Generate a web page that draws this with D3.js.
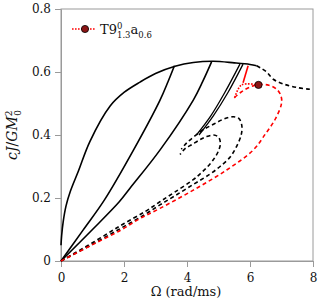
<!DOCTYPE html>
<html><head><meta charset="utf-8">
<script src="https://cdn.jsdelivr.net/npm/d3@7"></script>
<style>body{margin:0;background:#fff}svg{display:block}</style>
</head><body><div id="c"></div>
<script>
// ---- data ----
const xTicks = [0, 2, 4, 6, 8];
const yTicks = [0, 0.2, 0.4, 0.6, 0.8];
const yTickLabels = ["0", "0.2", "0.4", "0.6", "0.8"];
const envelope = [[0,0.05],[0.02,0.08],[0.07,0.125],[0.16,0.175],[0.3,0.222],[0.55,0.285],[0.92,0.38],[1.56,0.492],[2.0,0.535],[2.51,0.568],[3.0,0.595],[3.62,0.618],[4.2,0.63],[4.83,0.634],[5.5,0.629],[6.0,0.624],[6.21,0.62]];
const solidA = [[0,0],[0.7,0.098],[1.38,0.194],[2.3,0.352],[3.14,0.51],[3.4,0.57],[3.6,0.62]];
const solidB = [[0,0],[1.0,0.1],[1.85,0.188],[2.19,0.231],[3.14,0.352],[4.2,0.511],[4.5,0.57],[4.78,0.632]];
const solidC1 = [[5.68,0.625],[5.2,0.535],[4.75,0.46],[4.3,0.40]];
const solidC2 = [[5.78,0.625],[5.3,0.535],[4.83,0.46],[4.38,0.40]];
const dashTail = [[6.21,0.62],[6.35,0.612],[6.53,0.6],[6.74,0.577],[7.06,0.562],[7.48,0.551],[7.9,0.545]];
const dashLoopOuter = [[0,0],[1.0,0.053],[1.9,0.104],[2.67,0.148],[3.14,0.178],[3.6,0.206],[4.2,0.243],[4.73,0.276],[5.05,0.3],[5.37,0.33],[5.58,0.365],[5.72,0.4],[5.74,0.43],[5.65,0.452],[5.47,0.458],[5.15,0.45],[4.84,0.434],[4.52,0.417],[4.25,0.397],[3.99,0.375],[3.82,0.355]];
const dashLoopInner = [[0,0],[1.0,0.058],[1.9,0.113],[2.67,0.157],[3.14,0.188],[3.6,0.218],[4.2,0.258],[4.41,0.276],[4.63,0.297],[4.84,0.322],[5.0,0.35],[5.06,0.375],[5.0,0.393],[4.85,0.4],[4.6,0.394],[4.41,0.385],[4.15,0.369],[3.94,0.357],[3.78,0.338]];
const redDashed = [[0,0],[1.0,0.052],[1.9,0.098],[2.51,0.135],[3.14,0.167],[4.2,0.225],[5.26,0.289],[6.1,0.352],[6.5,0.405],[6.8,0.45],[7.0,0.5],[6.98,0.525],[6.85,0.545],[6.6,0.558],[6.27,0.56],[5.95,0.55],[5.7,0.535],[5.5,0.518]];
const redSolid = [[5.94,0.62],[5.78,0.566]];
const redDotted = [[6.27,0.559],[5.73,0.559],[5.52,0.52]];
const marker = [6.27, 0.559];

// ---- drawing ----
const W = 321, H = 306;
const FB = "'DejaVu Serif', serif";
const svg = d3.select("#c").append("svg").attr("width", W).attr("height", H);
const x = d3.scaleLinear().domain([0, 8]).range([61, 313]);
const y = d3.scaleLinear().domain([0, 0.8]).range([261, 9]);
const gray = "#9a9a9a";

svg.append("rect").attr("x", x(0)).attr("y", y(0.8)).attr("width", x(8) - x(0)).attr("height", y(0) - y(0.8))
  .attr("fill", "none").attr("stroke", gray).attr("stroke-width", 1);

const xAxis = svg.append("g").attr("transform", `translate(0,${y(0)})`)
  .call(d3.axisBottom(x).tickValues(xTicks).tickSize(6).tickPadding(6).tickFormat(d3.format("d")));
const yAxis = svg.append("g").attr("transform", `translate(${x(0)},0)`)
  .call(d3.axisLeft(y).tickValues(yTicks).tickSize(6).tickPadding(4).tickFormat((d, i) => yTickLabels[i]));
[xAxis, yAxis].forEach(g => {
  g.attr("font-family", FB).attr("font-size", 12);
  g.select(".domain").attr("stroke", gray);
  g.selectAll(".tick line").attr("stroke", gray);
  g.selectAll(".tick text").attr("fill", "#111");
});

const line = d3.line().x(d => x(d[0])).y(d => y(d[1])).curve(d3.curveCatmullRom.alpha(0.5));
function draw(data, color, width, dash) {
  const p = svg.append("path").datum(data).attr("d", line).attr("fill", "none")
    .attr("stroke", color).attr("stroke-width", width).attr("stroke-linecap", "butt");
  if (dash) p.attr("stroke-dasharray", dash);
  return p;
}
draw(envelope, "#000", 1.6);
draw(solidA, "#000", 1.6);
draw(solidB, "#000", 1.6);
draw(solidC1, "#000", 1.3);
draw(solidC2, "#000", 1.3);
draw(dashTail, "#000", 1.6, "4,3");
draw(dashLoopOuter, "#000", 1.6, "4,3");
draw(dashLoopInner, "#000", 1.6, "4,3");
draw(redDashed, "#ff0000", 1.6, "4,3");
draw(redSolid, "#ff0000", 1.6);
draw(redDotted, "#ff0000", 1.6, "1.6,1.4");
svg.append("circle").attr("cx", x(marker[0])).attr("cy", y(marker[1])).attr("r", 3.6)
  .attr("fill", "#8b1515").attr("stroke", "#000").attr("stroke-width", 0.8);

// legend
svg.append("line").attr("x1", 72).attr("x2", 96).attr("y1", 29).attr("y2", 29)
  .attr("stroke", "#ff0000").attr("stroke-width", 1.6).attr("stroke-dasharray", "1.6,1.4");
svg.append("circle").attr("cx", 85).attr("cy", 29).attr("r", 3.6).attr("fill", "#8b1515").attr("stroke", "#000").attr("stroke-width", 0.8);
const lt = svg.append("text").attr("x", 100).attr("y", 34).attr("font-family", FB).attr("font-size", 13).attr("fill", "#111");
lt.append("tspan").text("T9");
lt.append("tspan").attr("dy", -5.5).attr("font-size", 8.5).text("0");
lt.append("tspan").attr("dx", -5.4).attr("dy", 9).attr("font-size", 8.5).text("1.3");
lt.append("tspan").attr("dy", -3.5).text("a");
lt.append("tspan").attr("dy", 3.5).attr("font-size", 8.5).text("0.6");

// axis labels
svg.append("text").attr("x", 186).attr("y", 296).attr("text-anchor", "middle").attr("font-family", FB).attr("font-size", 13).attr("fill", "#111")
  .text("Ω (rad/ms)");
const yl = svg.append("text").attr("transform", "translate(17,135) rotate(-90)").attr("text-anchor", "middle")
  .attr("font-family", FB).attr("font-size", 14).attr("fill", "#111");
yl.append("tspan").attr("font-style", "italic").text("cJ");
yl.append("tspan").text("/");
yl.append("tspan").attr("font-style", "italic").text("GM");
yl.append("tspan").attr("dy", -5).attr("font-size", 9).text("2");
yl.append("tspan").attr("dx", -5.3).attr("dy", 8.5).attr("font-size", 9).text("0");
</script></body></html>
